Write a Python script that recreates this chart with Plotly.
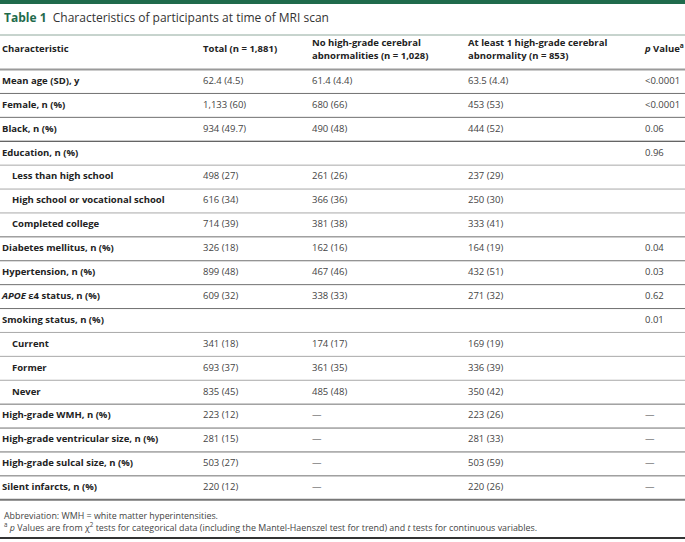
import plotly.graph_objects as go

# ---------------- data ----------------
characteristics = [
    "Mean age (SD), y", "Female, n (%)", "Black, n (%)", "Education, n (%)",
    "Less than high school", "High school or vocational school", "Completed college",
    "Diabetes mellitus, n (%)", "Hypertension, n (%)", "<i>APOE</i> ε4 status, n (%)",
    "Smoking status, n (%)", "Current", "Former", "Never",
    "High-grade WMH, n (%)", "High-grade ventricular size, n (%)",
    "High-grade sulcal size, n (%)", "Silent infarcts, n (%)",
]
is_sub = [False, False, False, False, True, True, True, False, False, False,
          False, True, True, True, False, False, False, False]
total = ["62.4 (4.5)", "1,133 (60)", "934 (49.7)", "", "498 (27)", "616 (34)", "714 (39)",
         "326 (18)", "899 (48)", "609 (32)", "", "341 (18)", "693 (37)", "835 (45)",
         "223 (12)", "281 (15)", "503 (27)", "220 (12)"]
no_abn = ["61.4 (4.4)", "680 (66)", "490 (48)", "", "261 (26)", "366 (36)", "381 (38)",
          "162 (16)", "467 (46)", "338 (33)", "", "174 (17)", "361 (35)", "485 (48)",
          "—", "—", "—", "—"]
abn = ["63.5 (4.4)", "453 (53)", "444 (52)", "", "237 (29)", "250 (30)", "333 (41)",
       "164 (19)", "432 (51)", "271 (32)", "", "169 (19)", "336 (39)", "350 (42)",
       "223 (26)", "281 (33)", "503 (59)", "220 (26)"]
pvals = ["<0.0001", "<0.0001", "0.06", "0.96", "", "", "", "0.04", "0.03", "0.62",
         "0.01", "", "", "", "—", "—", "—", "—"]
headers = ["Characteristic", "Total (n = 1,881)",
           "No high-grade cerebral<br>abnormalities (n = 1,028)",
           "At least 1 high-grade cerebral<br>abnormality (n = 853)",
           "<i>p</i> Value<sup>a</sup>"]
title_bold = "Table 1"
title_rest = "Characteristics of participants at time of MRI scan"
footnotes = [
    "Abbreviation: WMH = white matter hyperintensities.",
    "<sup>a</sup> <i>p</i> Values are from χ<sup>2</sup> tests for categorical data "
    "(including the Mantel-Haenszel test for trend) and <i>t</i> tests for continuous variables.",
]

# ---------------- layout constants ----------------
W, H = 685, 542
ROW0, ROWH = 81.5, 23.9
col_x = [2, 203, 312, 468, 645]
indent = 10
GREEN = "#1f6b4c"
TXT = "#222222"
VAL = "#444444"
FONT = "Open Sans"

n = len(characteristics)
rows = list(range(n))
y_top = -ROW0 / ROWH
y_bot = (H - ROW0) / ROWH


def py(p):  # pixel row -> row units
    return (p - ROW0) / ROWH


fig = go.Figure()

# label column
fig.add_trace(go.Scatter(
    x=[col_x[0] + (indent if s else 0) for s in is_sub], y=rows,
    text=characteristics, mode="text", textposition="middle right",
    textfont=dict(family=FONT, size=9.5, color=TXT, weight="bold"),
    hoverinfo="skip", showlegend=False))
for cx, vals in zip(col_x[1:], [total, no_abn, abn, pvals]):
    keep = [i for i, v in enumerate(vals) if v]
    fig.add_trace(go.Scatter(
        x=[cx] * len(keep), y=[rows[i] for i in keep], text=[vals[i] for i in keep],
        mode="text", textposition="middle right",
        textfont=dict(family=FONT, size=9.5, color=VAL),
        hoverinfo="skip", showlegend=False))

# header
fig.add_trace(go.Scatter(
    x=col_x, y=[py(50)] * len(headers), text=headers, mode="text",
    textposition="middle right",
    textfont=dict(family=FONT, size=9.5, color=TXT, weight="bold"),
    hoverinfo="skip", showlegend=False))

shapes = []
# top green bar
shapes.append(dict(type="rect", xref="paper", yref="y", x0=0, x1=1,
                   y0=y_top, y1=py(4), fillcolor=GREEN, line=dict(width=0)))
# under title line
shapes.append(dict(type="line", xref="paper", yref="y", x0=0, x1=1,
                   y0=py(35), y1=py(35), line=dict(color="#8fa89c", width=1)))
# header bottom line
shapes.append(dict(type="line", xref="paper", yref="y", x0=0, x1=1,
                   y0=py(69.5), y1=py(69.5), line=dict(color="#9a9a9a", width=2)))
# row separators
for i in range(n - 1):
    if i == 2:
        col = "#333333"
    elif is_sub[i + 1]:
        col = "#a8a8a8"
    else:
        col = "#707070"
    shapes.append(dict(type="line", xref="paper", yref="y", x0=0, x1=1,
                       y0=i + 0.5, y1=i + 0.5, line=dict(color=col, width=1)))
# table bottom
shapes.append(dict(type="line", xref="paper", yref="y", x0=0, x1=1,
                   y0=n - 0.5, y1=n - 0.5, line=dict(color="#777777", width=2)))
# page bottom
shapes.append(dict(type="line", xref="paper", yref="y", x0=0, x1=1,
                   y0=py(538), y1=py(538), line=dict(color="#333333", width=2)))

annotations = [
    dict(x=col_x[0], y=py(17), xref="x", yref="y", xanchor="left", yanchor="middle",
         showarrow=False,
         text=f"<b><span style='color:{GREEN}'>{title_bold}</span></b>  {title_rest}",
         font=dict(family=FONT, size=12, color="#333333")),
    dict(x=col_x[0], y=py(515), xref="x", yref="y", xanchor="left", yanchor="middle",
         showarrow=False, text=footnotes[0],
         font=dict(family=FONT, size=8.9, color="#444444")),
    dict(x=col_x[0], y=py(527), xref="x", yref="y", xanchor="left", yanchor="middle",
         showarrow=False, text=footnotes[1],
         font=dict(family=FONT, size=8.9, color="#444444")),
]

fig.update_layout(
    width=W, height=H, margin=dict(l=0, r=0, t=0, b=0),
    paper_bgcolor="white", plot_bgcolor="white",
    xaxis=dict(range=[0, W], visible=False, fixedrange=True),
    yaxis=dict(range=[y_bot, y_top], visible=False, fixedrange=True),
    shapes=shapes, annotations=annotations,
)
fig.write_html("out.html", config={"displayModeBar": False},
               post_script="document.body.style.margin='0';")
